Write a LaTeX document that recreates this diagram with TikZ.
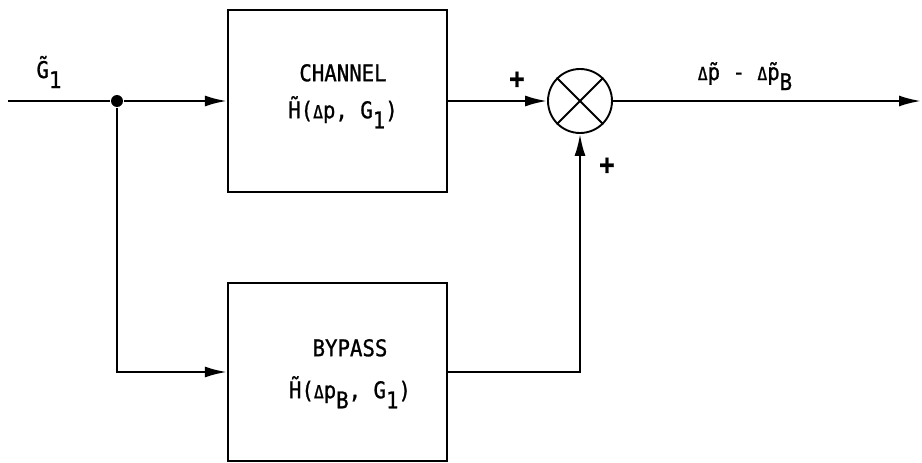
\documentclass[tikz,border=0pt]{standalone}
\usepackage{fontspec}
\setmainfont[FakeStretch=0.9, FakeBold=1]{DejaVu Sans Mono}
\usetikzlibrary{arrows.meta}
\newcommand{\lowr}[1]{\raisebox{-0.8ex}{#1}}
\newcommand{\dlt}{{\fontsize{18pt}{18pt}\selectfont Δ}}

\begin{document}
\begin{tikzpicture}[x=1pt, y=-1pt,
			>={Latex[length=22pt,width=11pt]},   % Pfeilspitzen
			line width=2.3pt,
			block/.style={draw, minimum width=219pt, minimum height=182pt, inner sep=0pt},
			txt/.style={align=center, font=\fontsize{23pt}{37pt}\selectfont, inner sep=0pt},
			sumnode/.style={draw, circle, minimum size=64pt, inner sep=0pt, line width=1.9pt},
			dot/.style={circle, fill, minimum size=12pt, inner sep=0pt},
			plus/.style={font=\fontsize{28pt}{28pt}\selectfont\bfseries, inner sep=0pt}]
			\useasboundingbox (0,0) rectangle (922,463);
			% Bloecke
			\node[block] (channel) at (337.5,101) {};
			\node[block, minimum height=178pt] (bypass) at (337.5,372) {};
			\node[txt, anchor=north] (chantxt) at (343,63) {CHANNEL\\\~{H}(\dlt p, G\lowr{1})};
			\node[txt, anchor=north, font=\fontsize{23pt}{42pt}\selectfont] (bypasstxt) at (350,338) {BYPASS\\\~{H}(\dlt p\lowr{B}, G\lowr{1})};
			% Summierer und Verzweigung
			\node[sumnode] (sum) at (580,101) {};
			\draw[line width=1.9pt] (sum.north west) -- (sum.south east) (sum.north east) -- (sum.south west);
			\node[dot] (junc) at (117,101) {};
			\coordinate (in) at (8,101);
			\coordinate (out) at (921,101);
			% Verbindungen
			\draw (in) -- (junc);
			\draw[->] (junc) -- (channel);
			\draw[->] (junc) |- (bypass);
			\draw[->] (channel) -- (sum);
			\draw[->] (bypass) -| (sum);
			\draw[->] (sum) -- (out);
			% Beschriftung
			\node[txt, anchor=base] (glbl) at (49,78) {\~{G}\lowr{1}};
			\node[txt, anchor=base] (outlbl) at (745,80) {\dlt\~{p} - \dlt\~{p}\lowr{B}};
			\node[plus] (plustop) at (517,80) {+};
			\node[plus] (plusbot) at (607,166) {+};
		\end{tikzpicture}
\end{document}
